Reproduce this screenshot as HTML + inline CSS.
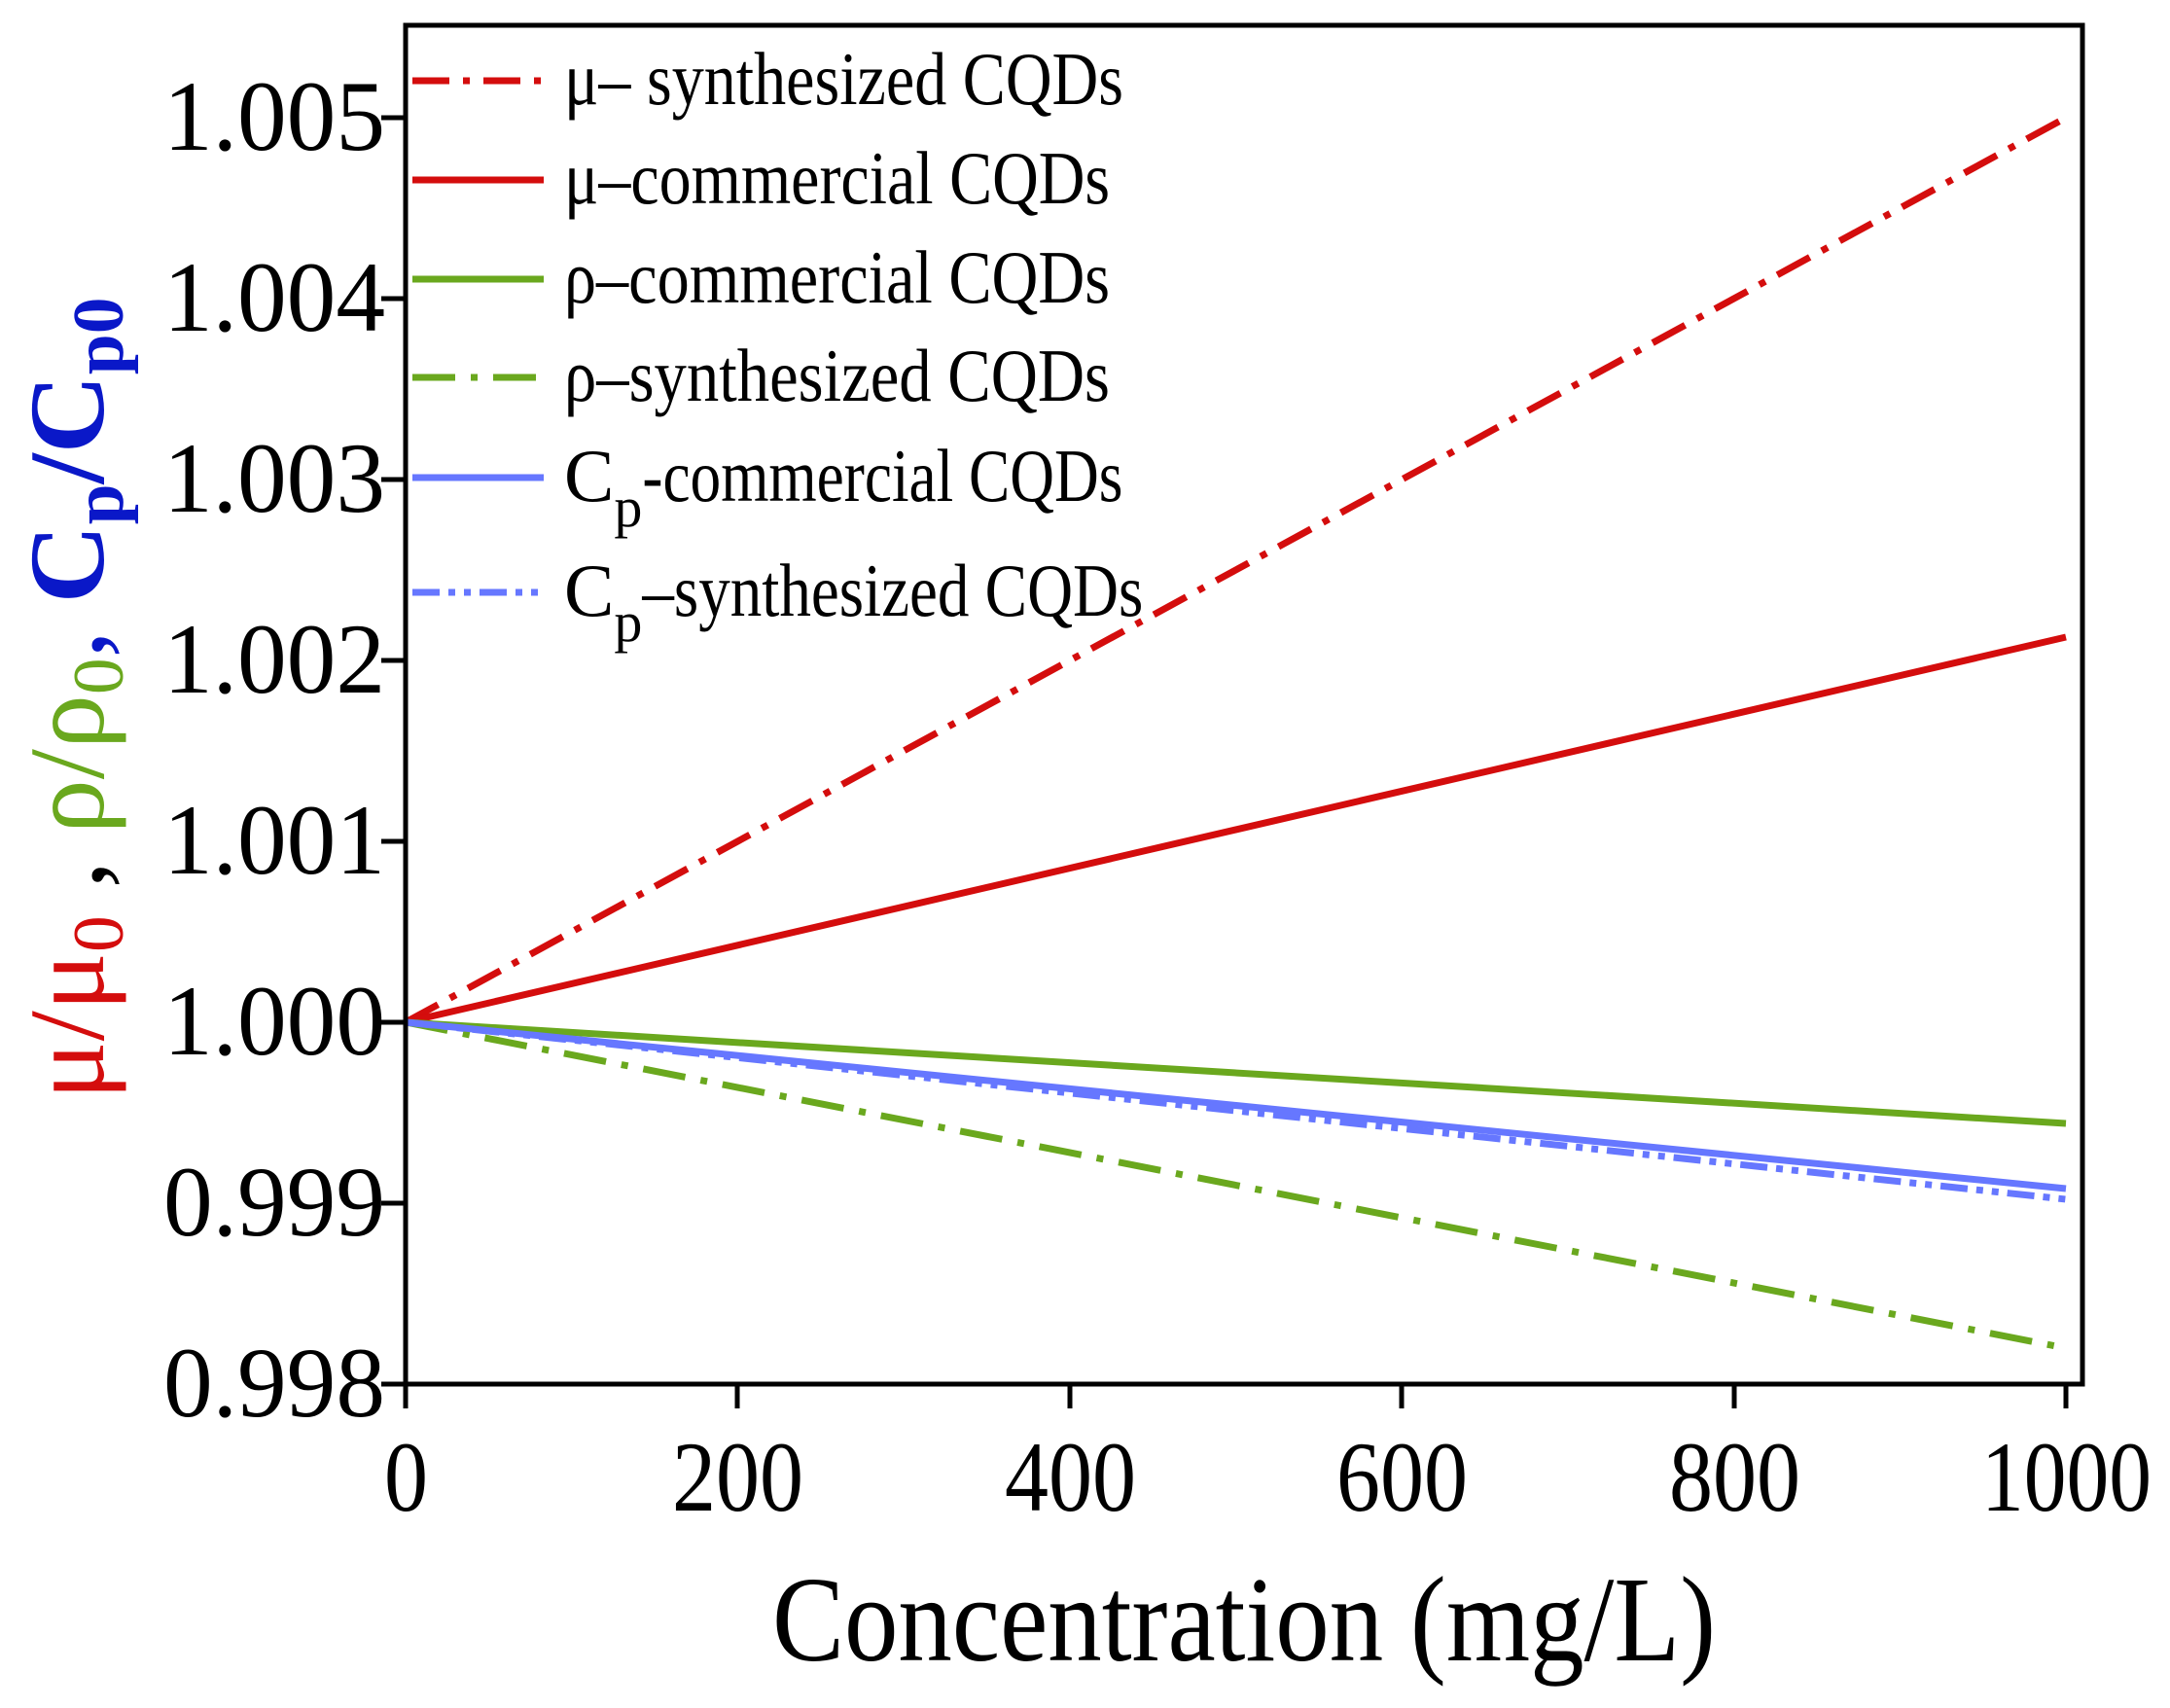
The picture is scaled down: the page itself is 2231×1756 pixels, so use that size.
<!DOCTYPE html>
<html><head><meta charset="utf-8"><style>body{margin:0;background:#fff}svg{display:block}</style></head>
<body>
<svg width="2231" height="1756" viewBox="0 0 2231 1756" xmlns="http://www.w3.org/2000/svg" font-family="Liberation Serif, serif">
<rect width="2231" height="1756" fill="#fff"/>
<g fill="none" stroke-width="7">
<line x1="417" y1="1051" x2="2124" y2="121" stroke="#d40d0d" stroke-dasharray="38,14,7,14"/>
<line x1="417" y1="1051" x2="2124" y2="655" stroke="#d40d0d"/>
<line x1="417" y1="1051" x2="2124" y2="1155" stroke="#6aa81e"/>
<line x1="417" y1="1051" x2="2124" y2="1386" stroke="#6aa81e" stroke-dasharray="44,16,7,16"/>
<line x1="417" y1="1051" x2="2124" y2="1222" stroke="#6677ff"/>
<line x1="417" y1="1051" x2="2124" y2="1233" stroke="#6677ff" stroke-dasharray="28,9,7,9,7,9"/>
</g>
<rect x="417" y="26" width="1724" height="1397" fill="none" stroke="#000" stroke-width="5"/>
<g stroke="#000" stroke-width="5">
<line x1="392" y1="121" x2="417" y2="121"/><line x1="392" y1="307" x2="417" y2="307"/>
<line x1="392" y1="493" x2="417" y2="493"/><line x1="392" y1="679" x2="417" y2="679"/>
<line x1="392" y1="865" x2="417" y2="865"/><line x1="392" y1="1051" x2="417" y2="1051"/>
<line x1="392" y1="1237" x2="417" y2="1237"/><line x1="392" y1="1423" x2="417" y2="1423"/>
<line x1="417" y1="1423" x2="417" y2="1448"/><line x1="758" y1="1423" x2="758" y2="1448"/>
<line x1="1100" y1="1423" x2="1100" y2="1448"/><line x1="1441" y1="1423" x2="1441" y2="1448"/>
<line x1="1783" y1="1423" x2="1783" y2="1448"/><line x1="2124" y1="1423" x2="2124" y2="1448"/>
</g>
<g font-size="103" fill="#000">
<text x="168" y="154" textLength="228" lengthAdjust="spacingAndGlyphs">1.005</text>
<text x="168" y="340" textLength="228" lengthAdjust="spacingAndGlyphs">1.004</text>
<text x="168" y="526" textLength="228" lengthAdjust="spacingAndGlyphs">1.003</text>
<text x="168" y="712" textLength="228" lengthAdjust="spacingAndGlyphs">1.002</text>
<text x="168" y="898" textLength="228" lengthAdjust="spacingAndGlyphs">1.001</text>
<text x="168" y="1084" textLength="228" lengthAdjust="spacingAndGlyphs">1.000</text>
<text x="168" y="1270" textLength="228" lengthAdjust="spacingAndGlyphs">0.999</text>
<text x="168" y="1456" textLength="228" lengthAdjust="spacingAndGlyphs">0.998</text>
</g>
<g font-size="103" fill="#000">
<text x="395" y="1553" textLength="45" lengthAdjust="spacingAndGlyphs">0</text>
<text x="691" y="1553" textLength="135" lengthAdjust="spacingAndGlyphs">200</text>
<text x="1033" y="1553" textLength="135" lengthAdjust="spacingAndGlyphs">400</text>
<text x="1374" y="1553" textLength="135" lengthAdjust="spacingAndGlyphs">600</text>
<text x="1716" y="1553" textLength="135" lengthAdjust="spacingAndGlyphs">800</text>
<text x="2037" y="1553" textLength="175" lengthAdjust="spacingAndGlyphs">1000</text>
</g>
<text x="794" y="1707" font-size="125" textLength="970" lengthAdjust="spacingAndGlyphs">Concentration (mg/L)</text>
<text transform="translate(106,718) rotate(-90)" font-size="110" text-anchor="middle" textLength="825" lengthAdjust="spacingAndGlyphs"><tspan fill="#d40d0d">μ/μ<tspan font-size="74" dy="20">0</tspan></tspan><tspan dy="-20"> , </tspan><tspan fill="#6aa81e">ρ/ρ<tspan font-size="74" dy="20">0</tspan></tspan><tspan dy="-20" fill="#0a18c8">, </tspan><tspan fill="#0a18c8" font-weight="bold">C<tspan font-size="74" dy="20">p</tspan><tspan dy="-20">/C</tspan><tspan font-size="74" dy="20">p0</tspan></tspan></text>
<g stroke-width="7">
<line x1="424" y1="83" x2="559" y2="83" stroke="#d40d0d" stroke-dasharray="38,14,7,14"/>
<line x1="424" y1="185" x2="559" y2="185" stroke="#d40d0d"/>
<line x1="424" y1="287" x2="559" y2="287" stroke="#6aa81e"/>
<line x1="424" y1="388" x2="559" y2="388" stroke="#6aa81e" stroke-dasharray="44,16,7,16"/>
<line x1="424" y1="491" x2="559" y2="491" stroke="#6677ff"/>
<line x1="424" y1="609" x2="559" y2="609" stroke="#6677ff" stroke-dasharray="28,9,7,9,7,9"/>
</g>
<g font-size="77" fill="#000">
<text x="580" y="107" textLength="575" lengthAdjust="spacingAndGlyphs">μ– synthesized CQDs</text>
<text x="580" y="209" textLength="561" lengthAdjust="spacingAndGlyphs">μ–commercial CQDs</text>
<text x="580" y="311" textLength="561" lengthAdjust="spacingAndGlyphs">ρ–commercial CQDs</text>
<text x="580" y="412" textLength="561" lengthAdjust="spacingAndGlyphs">ρ–synthesized CQDs</text>
<text x="580" y="515">C<tspan font-size="58" dy="26">p</tspan><tspan dy="-26" textLength="494" lengthAdjust="spacingAndGlyphs">-commercial CQDs</tspan></text>
<text x="580" y="633">C<tspan font-size="58" dy="26">p</tspan><tspan dy="-26" textLength="515" lengthAdjust="spacingAndGlyphs">–synthesized CQDs</tspan></text>
</g>
</svg>
</body></html>
